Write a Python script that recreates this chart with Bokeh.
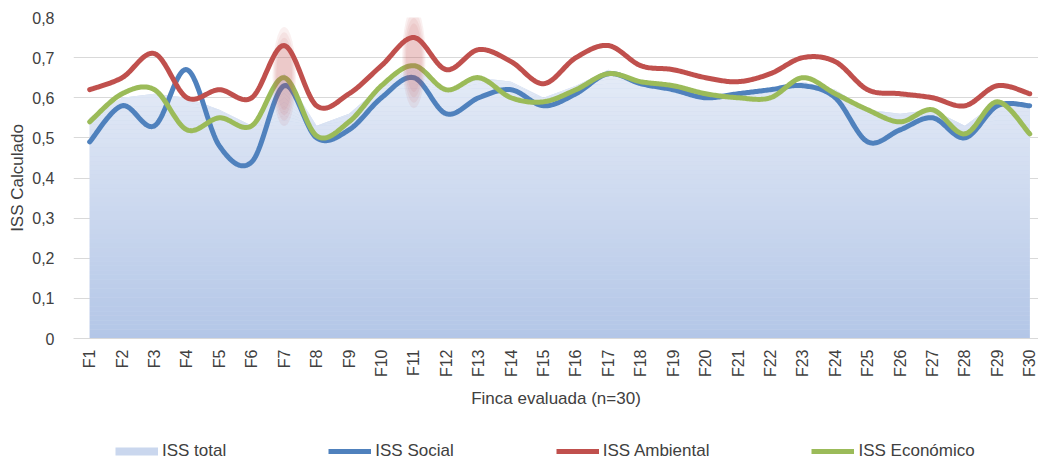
import math
import numpy as np
from bokeh.plotting import figure
from bokeh.layouts import column
from bokeh.models import (Range1d, FixedTicker, CustomJSTickFormatter, Legend, LegendItem)
from bokeh.embed import file_html
from bokeh.resources import INLINE

# ---- data -------------------------------------------------------------
farms = ["F1", "F2", "F3", "F4", "F5", "F6", "F7", "F8", "F9", "F10",
         "F11", "F12", "F13", "F14", "F15", "F16", "F17", "F18", "F19", "F20",
         "F21", "F22", "F23", "F24", "F25", "F26", "F27", "F28", "F29", "F30"]

iss_total = [0.55, 0.60, 0.61, 0.60, 0.57, 0.53, 0.66, 0.53, 0.56, 0.63,
             0.68, 0.62, 0.65, 0.64, 0.60, 0.63, 0.67, 0.64, 0.63, 0.61,
             0.61, 0.62, 0.64, 0.62, 0.57, 0.56, 0.57, 0.53, 0.59, 0.58]

iss_social = [0.49, 0.58, 0.53, 0.67, 0.48, 0.44, 0.63, 0.50, 0.52, 0.60,
              0.65, 0.56, 0.60, 0.62, 0.58, 0.61, 0.66, 0.635, 0.62, 0.60,
              0.61, 0.62, 0.63, 0.60, 0.49, 0.52, 0.55, 0.50, 0.58, 0.58]

iss_ambiental = [0.62, 0.65, 0.71, 0.60, 0.62, 0.60, 0.73, 0.58, 0.61, 0.68,
                 0.75, 0.67, 0.72, 0.69, 0.635, 0.70, 0.73, 0.68, 0.67, 0.65,
                 0.64, 0.66, 0.70, 0.69, 0.62, 0.61, 0.60, 0.58, 0.63, 0.61]

iss_economico = [0.54, 0.61, 0.62, 0.52, 0.55, 0.53, 0.65, 0.505, 0.54, 0.63,
                 0.68, 0.62, 0.65, 0.60, 0.59, 0.62, 0.66, 0.64, 0.63, 0.61,
                 0.60, 0.60, 0.65, 0.61, 0.57, 0.54, 0.57, 0.51, 0.59, 0.51]

y_ticks = [0, 0.1, 0.2, 0.3, 0.4, 0.5, 0.6, 0.7, 0.8]

# highlighted farms (farm number, centre value, height in ISS units)
highlights = [(7, 0.653, 0.22), (11, 0.70, 0.225)]

# ---- styling ----------------------------------------------------------
FONT = "Liberation Sans"
TEXT = "#404040"
GRID = "#d9d9d9"
C_TOTAL = "#cad7ee"
C_SOCIAL = "#4f81bd"
C_AMB = "#c0504d"
C_ECO = "#9bbb59"

x = np.arange(1, len(farms) + 1, dtype=float)


def smooth(xs, ys, steps=24):
    """Catmull-Rom curve through the points (Excel-style smoothed line)."""
    xs = np.asarray(xs, float)
    ys = np.asarray(ys, float)
    px = np.concatenate([[xs[0]], xs, [xs[-1]]])
    py = np.concatenate([[ys[0]], ys, [ys[-1]]])
    out_x, out_y = [], []
    t = np.linspace(0, 1, steps, endpoint=False)
    for i in range(1, len(px) - 2):
        for arr, out in ((px, out_x), (py, out_y)):
            p0, p1, p2, p3 = arr[i - 1], arr[i], arr[i + 1], arr[i + 2]
            out.extend(0.5 * ((2 * p1) + (-p0 + p2) * t
                              + (2 * p0 - 5 * p1 + 4 * p2 - p3) * t ** 2
                              + (-p0 + 3 * p1 - 3 * p2 + p3) * t ** 3))
    out_x.append(xs[-1])
    out_y.append(ys[-1])
    return out_x, out_y


p = figure(width=1038, height=430, output_backend="svg", toolbar_location=None,
           x_range=Range1d(0.5, 30.27), y_range=Range1d(0, 0.8),
           min_border_left=73, min_border_right=0, min_border_top=17,
           min_border_bottom=92)
p.outline_line_color = None
p.background_fill_color = "white"
p.border_fill_color = "white"

# ---- ISS total: area with vertical gradient ---------------------------
total = np.asarray(iss_total)
top_c = np.array([0xe6, 0xec, 0xf7], float)
bot_c = np.array([0xb3, 0xc6, 0xe7], float)
top_v = total.max()
n_bands = 60
edges = np.linspace(0, top_v, n_bands + 1)
p.varea(x=x, y1=0, y2=total, fill_color=C_TOTAL)
for k in range(n_bands):
    f = (edges[k] + edges[k + 1]) / 2 / top_v
    c = bot_c + (top_c - bot_c) * f
    col = "#%02x%02x%02x" % tuple(int(round(v)) for v in c)
    p.varea(x=x, y1=np.minimum(total, edges[k]), y2=np.minimum(total, edges[k + 1]),
            fill_color=col)

# ---- smoothed series ----------------------------------------------------
series = [("ISS Social", iss_social, C_SOCIAL),
          ("ISS Ambiental", iss_ambiental, C_AMB),
          ("ISS Económico", iss_economico, C_ECO)]
for name, vals, col in series:
    sx, sy = smooth(x, vals)
    p.line(sx, sy, line_color=col, line_width=5, line_join="round", line_cap="round")

# ---- highlight ellipses (soft-edged: stacked translucent layers) --------
hx = [h[0] for h in highlights]
hy = [h[1] for h in highlights]
hh = np.array([h[2] for h in highlights])
for s in (1.12, 1.0, 0.88, 0.76):
    p.ellipse(x=hx, y=hy, width=0.64 * s, height=hh * s,
              fill_color=C_AMB, fill_alpha=0.085, line_color=None)

# ---- axes -------------------------------------------------------------
xa = p.xaxis[0]
xa.ticker = FixedTicker(ticks=list(range(1, len(farms) + 1)))
xa.major_label_overrides = {i + 1: name for i, name in enumerate(farms)}
xa.major_label_orientation = math.pi / 2
xa.axis_line_color = GRID
xa.major_tick_line_color = None
xa.minor_tick_line_color = None
xa.major_label_standoff = 5
xa.axis_label = "Finca evaluada (n=30)"
xa.axis_label_standoff = 9

ya = p.yaxis[0]
ya.ticker = FixedTicker(ticks=y_ticks)
ya.formatter = CustomJSTickFormatter(
    code="return tick == 0 ? '0' : tick.toFixed(1).replace('.', ',');")
ya.axis_line_color = None
ya.major_tick_line_color = None
ya.minor_tick_line_color = None
ya.major_label_standoff = 13
ya.axis_label = "ISS Calculado"
ya.axis_label_standoff = 2

for ax in (xa, ya):
    ax.major_label_text_font = FONT
    ax.major_label_text_font_size = "16px"
    ax.major_label_text_color = TEXT
    ax.axis_label_text_font = FONT
    ax.axis_label_text_font_size = "17px"
    ax.axis_label_text_font_style = "normal"
    ax.axis_label_text_color = TEXT

p.xgrid.grid_line_color = None
p.ygrid.grid_line_color = GRID
p.ygrid.grid_line_width = 1

# ---- legend strip -------------------------------------------------------
lg = figure(width=1038, height=31, output_backend="svg", toolbar_location=None,
            x_range=Range1d(0, 1), y_range=Range1d(0, 1),
            x_axis_type=None, y_axis_type=None,
            min_border_left=0, min_border_right=0, min_border_top=0, min_border_bottom=0)
lg.outline_line_color = None
lg.xgrid.grid_line_color = None
lg.ygrid.grid_line_color = None

# key glyphs sit outside the strip's visible range; only their legend swatches show
off = dict(x=[-3, -2], y=[-3, -2])
keys = [lg.line(line_color=C_TOTAL, line_width=8, **off)]
for name, vals, col in series:
    keys.append(lg.line(line_color=col, line_width=5, **off))
labels = ["ISS total"] + [s[0] for s in series]

legend = Legend(items=[LegendItem(label=l, renderers=[r]) for l, r in zip(labels, keys)],
                orientation="horizontal", location=(42, 0))
legend.glyph_width = 43
legend.glyph_height = 20
legend.label_height = 20
legend.label_standoff = 4
legend.spacing = 102
legend.padding = 0
legend.margin = 0
legend.border_line_color = None
legend.background_fill_alpha = 0
legend.label_text_font = FONT
legend.label_text_font_size = "17px"
legend.label_text_color = TEXT
lg.add_layout(legend, "center")

page = column(p, lg, spacing=0)
open("out.html", "w").write(file_html(page, INLINE))
